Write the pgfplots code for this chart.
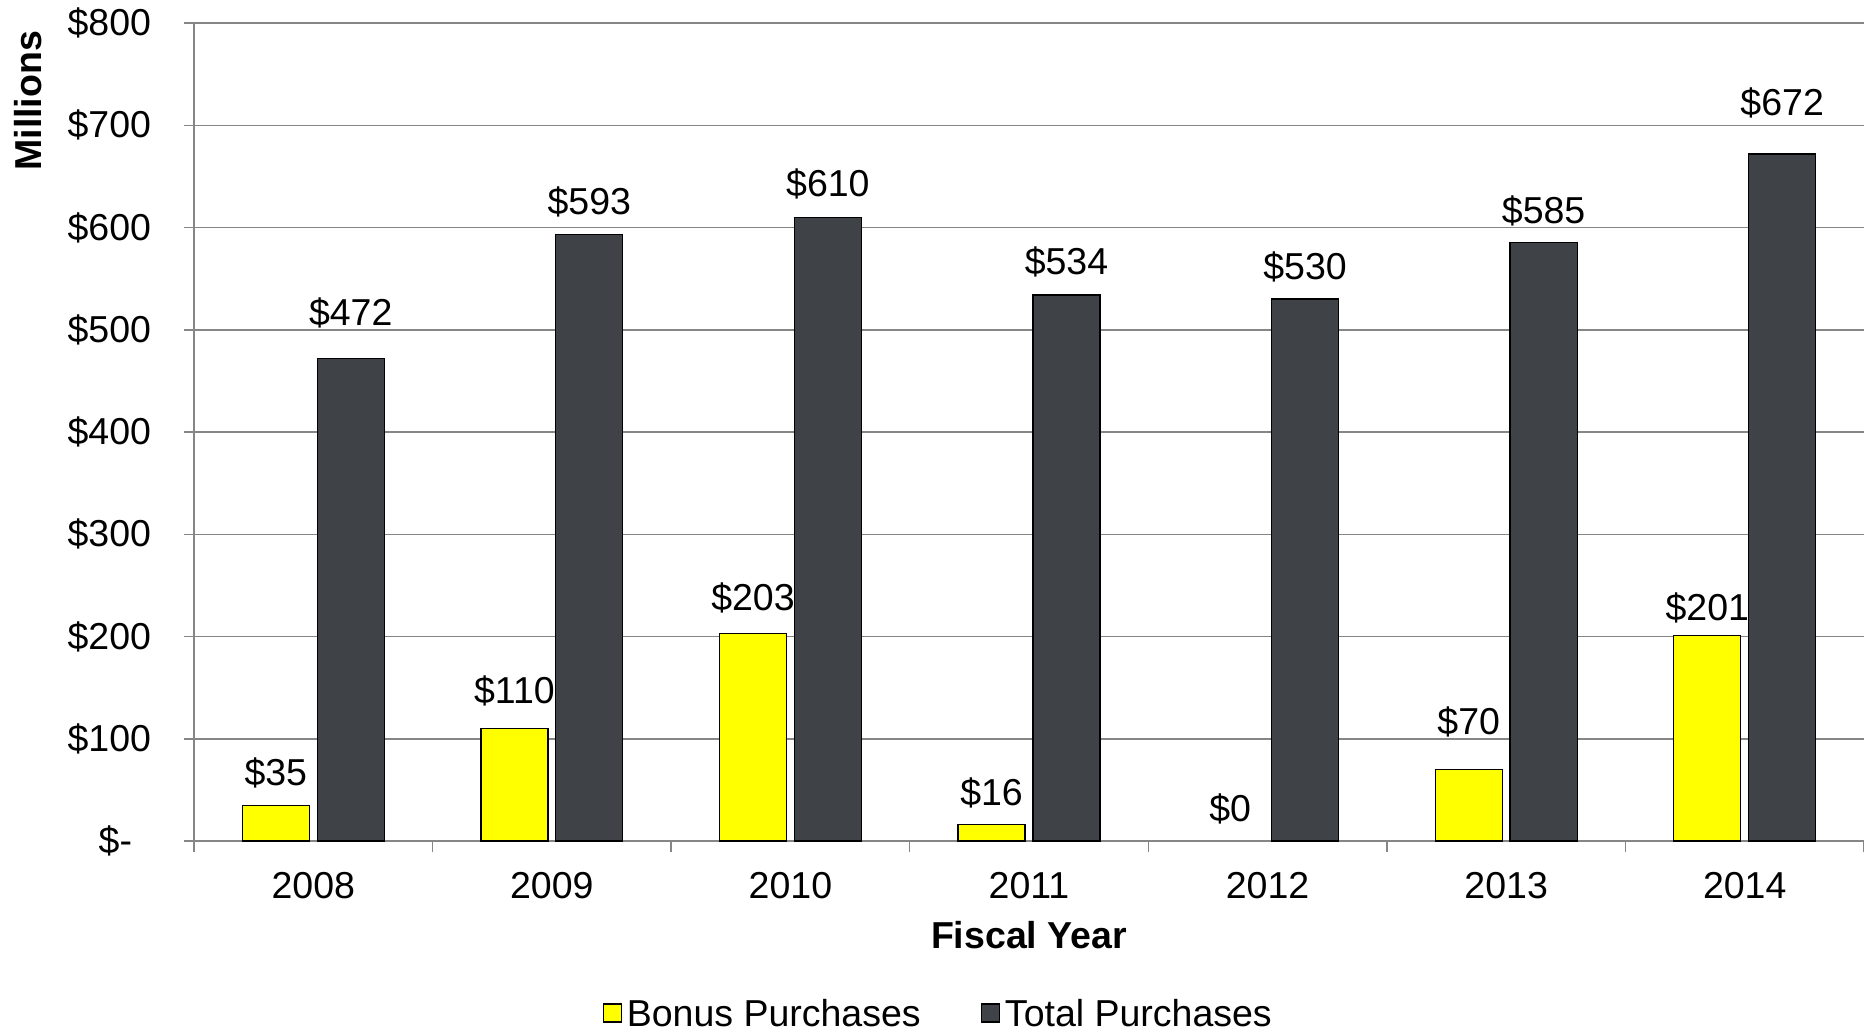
\documentclass[border=0pt]{standalone}
\usepackage{fontspec}
\setmainfont{Liberation Sans}
\usepackage{pgfplots}
\usepackage{pgfplotstable}
\pgfplotsset{compat=1.18}
\definecolor{bonus}{RGB}{255,255,0}
\definecolor{total}{RGB}{63,66,70}
\definecolor{gridc}{RGB}{134,134,134}
\pgfplotstableread{
x y dy
0 35 7.7
1 110 10
2 203 9.2
3 16 7.7
5 70 14
6 201 5.8
}\bonustab
\pgfplotstableread{
x y dy
4 0 7.7
}\bonuszero
\pgfplotstableread{
x y dy
0 472 13.2
1 593 8.2
2 610 8.2
3 534 8.2
4 530 7.7
5 585 7.7
6 672 15.2
}\totaltab
\begin{document}
\fontsize{15}{18}\selectfont
\begin{tikzpicture}
\begin{axis}[
  name=ax, at={(0,0)}, anchor=south west,
  scale only axis, width=668pt, height=327.2pt,
  /pgf/number format/assume math mode=true,
  xmin=-0.5, xmax=6.5, ymin=0, ymax=800,
  axis x line=bottom, axis y line=left,
  axis line style={-, draw=gridc, line width=0.6pt},
  ymajorgrids, grid style={draw=gridc, line width=0.6pt},
  tick align=outside,
  major tick length=4pt,
  xtick={0,...,6},
  xticklabels={2008,2009,2010,2011,2012,2013,2014},
  major x tick style={draw=none},
  minor xtick={-0.5,0.5,...,6.5},
  minor tick length=4.4pt,
  minor x tick style={draw=gridc, line width=0.6pt},
  ytick={0,100,...,800},
  yticklabels={\$-\rule{7.6pt}{0pt},\$100,\$200,\$300,\$400,\$500,\$600,\$700,\$800},
  ytick style={draw=gridc, line width=0.6pt},
  xticklabel style={anchor=base, yshift=-18.9pt},
  yticklabel style={anchor=east, xshift=-8pt},
  xlabel={\bfseries Fiscal Year},
  xlabel style={at={(rel axis cs:0.5,0)}, anchor=base, yshift=-42.8pt},
  ylabel={\bfseries Millions},
  ylabel style={at={(rel axis cs:0,0.905)}, anchor=center, yshift=66.2pt},
  ybar, bar width=0.281,
  visualization depends on={\thisrow{dy} \as \dy},
  nodes near coords={\$\pgfmathprintnumber{\pgfplotspointmeta}},
  every node near coord/.append style={anchor=base, yshift=\dy*1pt, inner sep=0pt, text=black},
  legend columns=2,
  legend style={draw=none, fill=none, at={(rel axis cs:0.4465,0)}, anchor=center, yshift=-70pt,
    /tikz/every even column/.append style={column sep=22pt}},
  legend image code/.code={\draw[#1] (0pt,-2.4pt) rectangle (7.2pt,4.8pt);},
]
\addplot[fill=bonus, draw=black, line width=0.5pt, bar shift=-0.157]
  table[x=x, y=y] {\bonustab};
\addlegendentry{Bonus Purchases}
\addplot[fill=total, draw=black, line width=0.5pt, bar shift=0.157]
  table[x=x, y=y] {\totaltab};
\addlegendentry{Total Purchases}
\addplot[draw=none, fill=none, bar shift=-0.157, forget plot]
  table[x=x, y=y] {\bonuszero};
\end{axis}
\pgfresetboundingbox
\path (-77.6pt,-76.8pt) rectangle (668pt,336.4pt);
\end{tikzpicture}
\end{document}
